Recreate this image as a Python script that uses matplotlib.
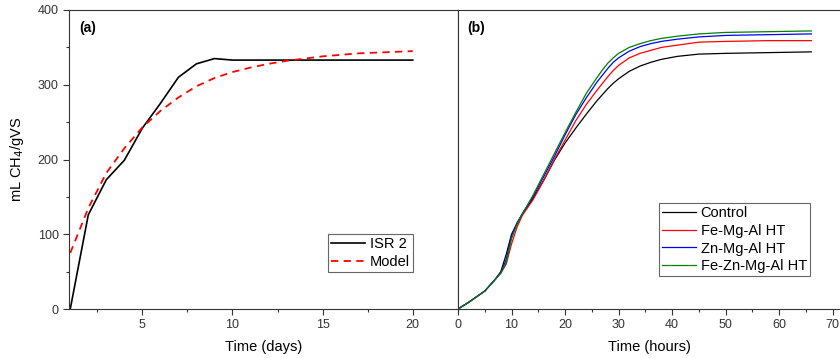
import matplotlib
matplotlib.use("Agg")
import matplotlib.pyplot as plt
from matplotlib.ticker import MultipleLocator

plt.rcParams['font.family'] = ['Liberation Sans', 'DejaVu Sans']

# ---- Panel (a) data ----
days = list(range(1, 21))
isr2 = [0, 126, 173, 199, 242, 275, 310, 328, 335, 333,
        333, 333, 333, 333, 333, 333, 333, 333, 333, 333]
model = [75, 135, 182, 215, 243, 265, 283, 298, 309, 317,
         323, 328, 332, 335, 338, 340, 342, 343, 344, 345]

# ---- Panel (b) data ----
hours = [0, 2, 4, 5, 7, 8, 9, 10, 11, 12, 14, 16, 18, 20, 22, 24, 26, 27, 28,
         29, 30, 32, 34, 36, 38, 41, 45, 50, 58, 66]
control = [0, 9, 19, 24, 40, 50, 73, 100, 114, 127, 148, 172, 199, 222, 242,
           261, 279, 287, 295, 302, 308, 318, 325, 330, 334, 338, 341, 342, 343, 344]
fe_mg_al = [0, 9, 19, 24, 40, 48, 60, 87, 109, 125, 146, 172, 200, 226, 252,
            274, 293, 302, 311, 319, 326, 336, 342, 346, 350, 353, 357, 358, 359, 359]
zn_mg_al = [0, 9, 19, 24, 40, 49, 66, 98, 115, 127, 150, 177, 204, 233, 260,
            283, 304, 313, 322, 330, 336, 345, 351, 355, 358, 361, 364, 366, 367, 368]
fe_zn_mg_al = [0, 9, 19, 24, 40, 48, 62, 94, 113, 127, 152, 180, 208, 236, 263,
               289, 310, 320, 329, 336, 342, 350, 355, 359, 362, 365, 368, 370, 371, 372]

W, H = 840, 358
fig = plt.figure(figsize=(W / 100, H / 100), dpi=100)

x0, xm, x1 = 69, 458, 840
ytop, ybot = 10, 309
axa = fig.add_axes([x0 / W, 1 - ybot / H, (xm - x0) / W, (ybot - ytop) / H])
axb = fig.add_axes([xm / W, 1 - ybot / H, (x1 - xm) / W, (ybot - ytop) / H])

leg_kw = dict(fontsize=10.5, fancybox=False, framealpha=1, edgecolor='#666666',
              handlelength=2.3, labelspacing=0.25, borderpad=0.2,
              handletextpad=0.35, borderaxespad=0)

# Panel (a)
axa.plot(days, isr2, color='black', lw=1.2, label='ISR 2')
axa.plot(days, model, color='red', lw=1.3, ls=(0, (4, 3)), label='Model')
axa.set_xlim(0.93, 22.51)
axa.set_ylim(0, 400)
axa.xaxis.set_major_locator(MultipleLocator(5))
axa.xaxis.set_minor_locator(MultipleLocator(2.5))
axa.yaxis.set_major_locator(MultipleLocator(100))
axa.yaxis.set_minor_locator(MultipleLocator(50))
axa.tick_params(which='both', direction='out', top=False, right=False, labelsize=9, colors='#333333')
axa.tick_params(which='major', length=4, width=0.8)
axa.tick_params(which='minor', length=2.5, width=0.8)
axa.set_xlabel('Time (days)', fontsize=10.5, labelpad=6)
axa.set_ylabel('mL CH$_4$/gVS', fontsize=10.5, labelpad=8)
axa.text(0.026, 0.94, '(a)', transform=axa.transAxes, fontsize=10, fontweight='bold', va='center')
leg = axa.legend(loc='lower right', bbox_to_anchor=(0.884, 0.124), **leg_kw)
leg.get_frame().set_linewidth(0.8)

# Panel (b)
axb.plot(hours, control, color='black', lw=0.9, label='Control')
axb.plot(hours, fe_mg_al, color='red', lw=0.9, label='Fe-Mg-Al HT')
axb.plot(hours, zn_mg_al, color='blue', lw=0.9, label='Zn-Mg-Al HT')
axb.plot(hours, fe_zn_mg_al, color='green', lw=0.9, label='Fe-Zn-Mg-Al HT')
axb.set_xlim(0, 71.35)
axb.set_ylim(0, 400)
axb.xaxis.set_major_locator(MultipleLocator(10))
axb.xaxis.set_minor_locator(MultipleLocator(5))
axb.set_yticks([])
axb.spines['right'].set_visible(False)
axb.tick_params(which='both', direction='out', top=False, right=False, labelsize=9, colors='#333333')
axb.tick_params(which='major', length=4, width=0.8)
axb.tick_params(which='minor', length=2.5, width=0.8)
axb.set_xlabel('Time (hours)', fontsize=10.5, labelpad=6)
axb.text(0.025, 0.94, '(b)', transform=axb.transAxes, fontsize=10, fontweight='bold', va='center')
leg2 = axb.legend(loc='lower right', bbox_to_anchor=(0.921, 0.110), **leg_kw)
leg2.get_frame().set_linewidth(0.8)

for ax in (axa, axb):
    for s in ax.spines.values():
        s.set_linewidth(0.8)
        s.set_color('#333333')

fig.savefig('out.png', dpi=100)
